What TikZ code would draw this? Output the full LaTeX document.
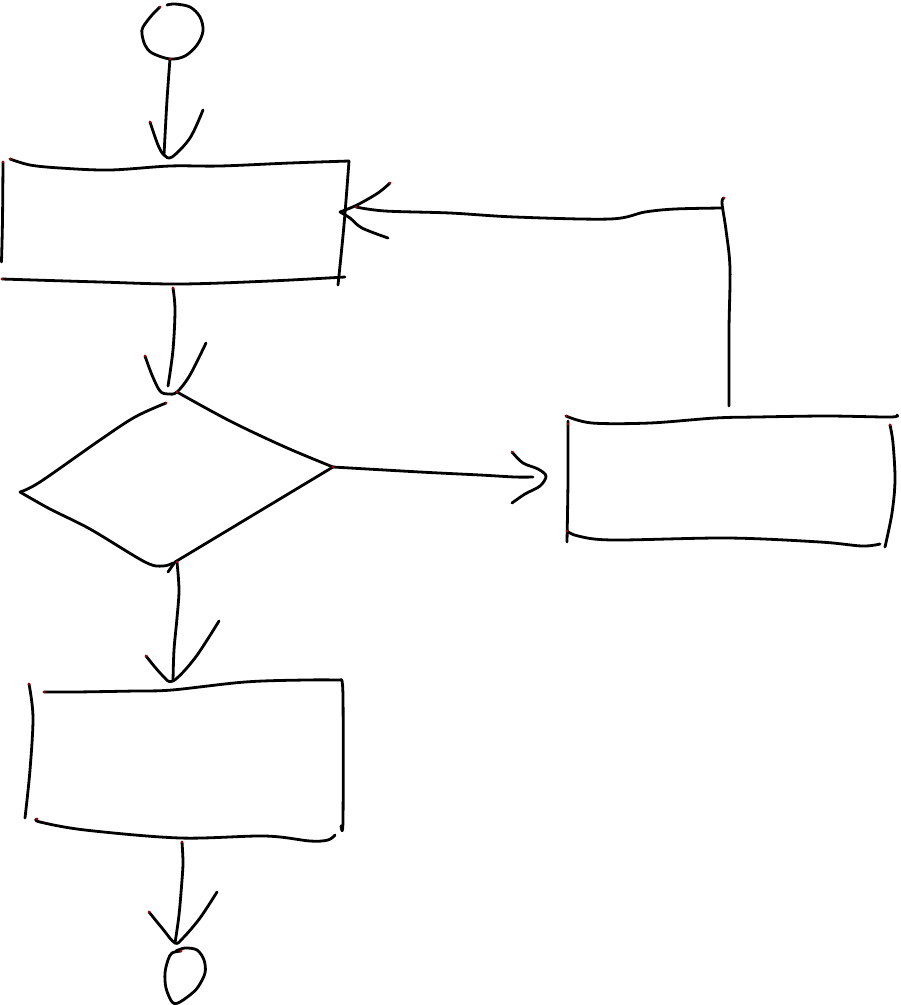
\documentclass[tikz,border=0pt]{standalone}
\begin{document}
\begin{tikzpicture}[x=1pt,y=-1pt,
  pen/.style={line width=2.8pt, line cap=round, line join=round, black},
  sm/.style={smooth, tension=0.55},
  reddot/.style={fill=red!70!black}]
\useasboundingbox (0,0) rectangle (901,1005);
\fill[white] (0,0) rectangle (901,1005);

% anchor coordinates
\coordinate (startB) at (170,59);
\coordinate (b1T) at (164,155);
\coordinate (b1B) at (173,288);
\coordinate (b1R) at (340,212);
\coordinate (dT) at (168,394);
\coordinate (dR) at (333,467);
\coordinate (dB) at (177,562);
\coordinate (b2L) at (546,476);
\coordinate (b2T) at (729,406);
\coordinate (b3T) at (173,681);
\coordinate (b3B) at (182,842);
\coordinate (endT) at (175,943);

% start circle
\draw[pen] plot[sm] coordinates {(160,7) (152,15) (143,27) (142,34) (145,45) (152,53) (startB) (185,56) (197,45) (203,31) (200,17) (190,7) (175,4) (167,5)};

% box 1
\draw[pen] plot[sm] coordinates {(10,159) (30,165) (60,168) (110,170) (170,166) (220,166) (290,163) (349,161)};
\draw[pen] plot[sm] coordinates {(349,161) (344,225) (338,285)};
\draw[pen] plot[sm] coordinates {(2,279) (100,282) (180,284) (270,281) (345,277)};
\draw[pen] plot[sm] coordinates {(3,162) (2.5,220) (1.5,262)};

% diamond
\draw[pen] plot[sm] coordinates {(166,403) (135,417) (100,440) (40,482) (20,492)};
\draw[pen] plot[sm] coordinates {(20,492) (50,509) (90,529) (145,562) (163,566) (173,563)};
\draw[pen] plot[sm] coordinates {(177,392) (230,421) (285,447) (dR)};
\draw[pen] (dR) -- (175,562) -- (168,572);

% box 2
\draw[pen] plot[sm] coordinates {(566,416) (592,423) (650,423) (715,418) (757,417) (827,416) (890,417) (897,415)};
\draw[pen] plot[sm] coordinates {(568,421) (568,480) (567,542)};
\draw[pen] plot[sm] coordinates {(567,531) (578,536) (613,540) (728,538) (820,542) (862,546) (880,544)};
\draw[pen] plot[sm] coordinates {(890,425) (893,443) (895,480) (892,513) (885,547)};

% box 3
\draw[pen] plot[sm] coordinates {(44,692) (75,692) (135,691) (172,690) (245,682) (305,680) (341,680)};
\draw[pen] plot[sm] coordinates {(341,680) (343,697) (343,820) (341,826)};
\draw[pen] plot[sm] coordinates {(29,684) (33,717) (30,770) (25,818)};
\draw[pen] plot[sm] coordinates {(37,819) (40,822) (85,830) (180,838) (265,836) (310,841) (328,840) (335,835)};

% end circle
\draw[pen] plot[sm] coordinates {(181,951) (172,953) (168,960) (165,973) (166,988) (172,1002) (178,1003) (190,995) (198,987) (205,973) (204,960) (197,950) (185,948) (176,951)};

% connector: start -> box 1
\draw[pen] plot[sm] coordinates {(startB) (167,100) (b1T)};
\draw[pen] plot[sm] coordinates {(150,122) (158,145) (b1T) (172,157) (190,138) (203,110)};

% connector: box 1 -> diamond
\draw[pen] plot[sm] coordinates {(b1B) (175,310) (173,350) (168,386)};
\draw[pen] plot[sm] coordinates {(145,356) (152,375) (160,391) (dT) (177,392) (190,375) (206,343)};

% connector: diamond -> box 2
\draw[pen] plot[sm] coordinates {(dR) (420,472) (480,475) (515,477) (533,477)};
\draw[pen] plot[sm] coordinates {(512,452) (523,463) (538,469) (b2L) (540,486) (525,494) (512,503)};

% connector: box 2 -> box 1 (feedback)
\draw[pen] plot[sm] coordinates {(b2T) (729,330) (730,268) (726,230) (722,203) (724,198)};
\draw[pen] plot[sm] coordinates {(722,208) (675,209) (645,212) (610,219) (515,217) (450,213) (385,211) (356,207)};
\draw[pen] plot[sm] coordinates {(390,183) (378,193) (357,205) (b1R)};
\draw[pen] plot[sm] coordinates {(b1R) (350,218) (362,228) (388,238)};

% connector: diamond -> box 3
\draw[pen] plot[sm] coordinates {(dB) (179,590) (177,618) (174,650) (b3T)};
\draw[pen] plot[sm] coordinates {(146,656) (162,675) (b3T) (195,658) (219,621)};

% connector: box 3 -> end
\draw[pen] plot[sm] coordinates {(b3B) (183,862) (182,880) (179,915) (endT)};
\draw[pen] plot[sm] coordinates {(149,912) (162,928) (endT) (183,938) (200,918) (217,892)};

% small red stroke-start dots
\foreach \p in {(160,7),(170,59),(150,122),(10,159),(3,162),(2,279),(173,288),(145,356),(166,403),(177,392),(333,467),(356,207),(390,183),(724,198),(566,416),(568,424),(567,531),(890,425),(512,452),(177,562),(146,656),(44,692),(29,684),(37,819),(182,842),(149,912),(181,951)}
  \fill[reddot] \p circle (1.4);
\end{tikzpicture}
\end{document}
